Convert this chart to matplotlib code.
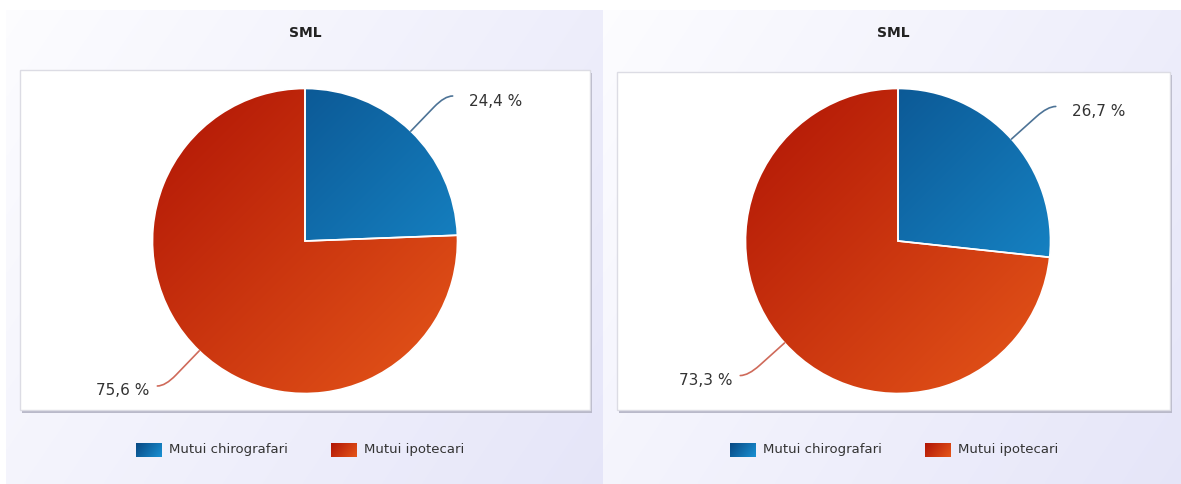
import numpy as np
import matplotlib
matplotlib.use("Agg")
import matplotlib.pyplot as plt
from matplotlib.patches import Rectangle
from matplotlib.path import Path
from matplotlib.patches import PathPatch

# ---- data ----
categories = ["Mutui chirografari", "Mutui ipotecari"]
titles = ["SML", "SML"]
left_values = [24.4, 75.6]
right_values = [26.7, 73.3]
panel_values = [left_values, right_values]

W, H = 1181, 484
fig = plt.figure(figsize=(W / 100, H / 100), dpi=100)
ax = fig.add_axes([0, 0, 1, 1])

def Y(py):
    return H - py

# colour ramps (dark top-left -> light bottom-right)
ramps = [((0.03, 0.28, 0.51), (0.10, 0.57, 0.83)),
         ((0.69, 0.08, 0.02), (0.90, 0.34, 0.10))]
conn_colors = ["#4d7396", "#cf6a5a"]

def grad_img(c0, c1, n=200, wu=0.5):
    u = np.linspace(0, 1, n)[None, :]
    v = np.linspace(0, 1, n)[:, None]
    t = wu * u + (1 - wu) * v
    c0 = np.array(c0); c1 = np.array(c1)
    return c0[None, None, :] * (1 - t[..., None]) + c1[None, None, :] * t[..., None]

# panel layout (pixels)
panels = [
    dict(px0=6, px1=603, box=(20, 70, 590, 410), cx=305, cy=241, r=152.5,
         leg=136),
    dict(px0=603, px1=1181, box=(617, 72, 1170, 410), cx=898, cy=241, r=152.5,
         leg=730),
]

for i, (p, vals, title) in enumerate(zip(panels, panel_values, titles)):
    # panel background gradient
    bg = grad_img((0.99, 0.99, 1.0), (0.90, 0.90, 0.975), wu=0.65)
    ax.imshow(bg, extent=(p["px0"], p["px1"], Y(H), Y(10)), aspect="auto",
              zorder=0, interpolation="bilinear")
    # plot box with shadow
    bx0, by0, bx1, by1 = p["box"]
    ax.add_patch(Rectangle((bx0 + 2, Y(by1 + 3)), bx1 - bx0, by1 - by0,
                           facecolor="#b9b9c9", edgecolor="none", zorder=1))
    ax.add_patch(Rectangle((bx0, Y(by1)), bx1 - bx0, by1 - by0,
                           facecolor="white", edgecolor="#dcdce4", lw=1, zorder=2))
    # title
    ax.text((bx0 + bx1) / 2, Y(33), title, ha="center", va="center",
            fontsize=10, fontweight="bold", color="#222222", zorder=5)

    # pie
    cx, cy, r = p["cx"], Y(p["cy"]), p["r"]
    wedges, _ = ax.pie(vals, center=(cx, cy), radius=r, startangle=90,
                       counterclock=False,
                       wedgeprops=dict(edgecolor="white", linewidth=1.2),
                       colors=["none", "none"])
    for w, (c0, c1) in zip(wedges, ramps):
        w.set_zorder(4)
        img = ax.imshow(grad_img(c0, c1, wu=0.5),
                        extent=(cx - r, cx + r, cy - r, cy + r),
                        aspect="auto", zorder=3, interpolation="bilinear")
        img.set_clip_path(w)

    # labels with connectors
    total = sum(vals)
    start = 0.0
    for k, v in enumerate(vals):
        mid = (start + v / 2) / total * 2 * np.pi
        start += v
        sx, sy = np.sin(mid), np.cos(mid)
        side = 1 if sx >= 0 else -1
        p0 = (cx + r * sx, cy + r * sy)
        pa = (cx + 1.22 * r * sx, cy + 1.22 * r * sy)
        pc = (cx + 1.32 * r * sx, cy + 1.32 * r * sy)
        p2 = (pc[0] + side * 8, pc[1])
        path = Path([p0, pa, pc, p2],
                    [Path.MOVETO, Path.LINETO, Path.CURVE3, Path.CURVE3])
        ax.add_patch(PathPatch(path, facecolor="none", edgecolor=conn_colors[k],
                               lw=1.2, zorder=5, capstyle="round"))
        lbl = f"{v:.1f}".replace(".", ",") + " %"
        gap = 16 if side > 0 else 8
        ax.text(p2[0] + side * gap, p2[1] - 5, lbl,
                ha="left" if side > 0 else "right", va="center",
                fontsize=11, color="#333333", zorder=6)

    # legend
    lx = p["leg"]
    for k, cat in enumerate(categories):
        x0 = lx + k * 195
        sq = Rectangle((x0, Y(457)), 26, 14, facecolor="none", edgecolor="none",
                       zorder=5)
        ax.add_patch(sq)
        im = ax.imshow(grad_img(*ramps[k], wu=0.7), extent=(x0, x0 + 26, Y(457), Y(443)),
                       aspect="auto", zorder=5, interpolation="bilinear")
        im.set_clip_path(sq)
        ax.text(x0 + 33, Y(450), cat, ha="left", va="center", fontsize=9.5,
                color="#333333", zorder=6)

ax.set_xlim(0, W)
ax.set_ylim(0, H)
ax.set_aspect("auto")
ax.axis("off")
fig.savefig("out.png", dpi=100, facecolor="white")
